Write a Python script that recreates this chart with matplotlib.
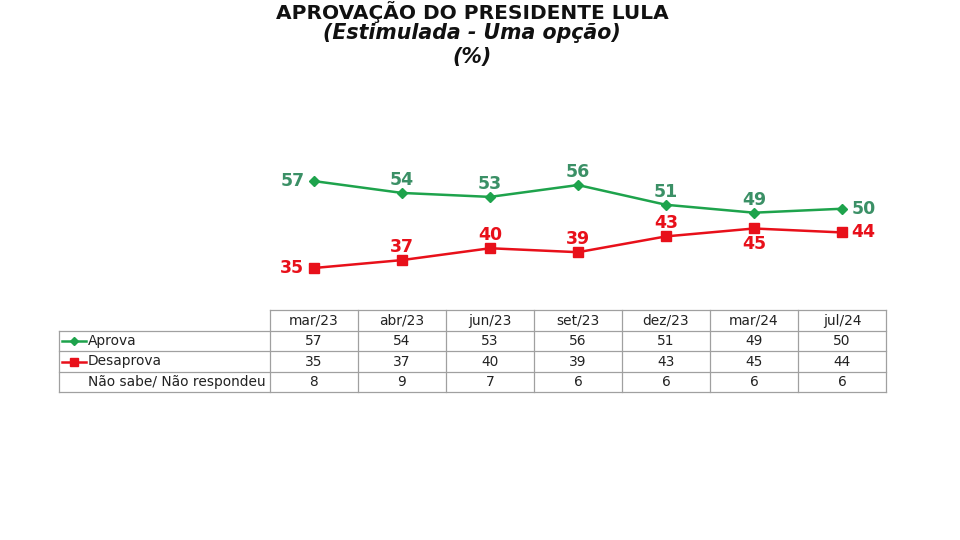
import matplotlib
matplotlib.use('Agg')
import matplotlib.pyplot as plt

# data
months = ['mar/23', 'abr/23', 'jun/23', 'set/23', 'dez/23', 'mar/24', 'jul/24']
aprova = [57, 54, 53, 56, 51, 49, 50]
desaprova = [35, 37, 40, 39, 43, 45, 44]
nao_sabe = [8, 9, 7, 6, 6, 6, 6]
row_names = ['Aprova', 'Desaprova', 'Não sabe/ Não respondeu']

green_line = '#1ea34c'
green_text = '#3b9066'
red = '#e8101a'
grid_col = '#a0a0a0'

plt.rcParams['font.family'] = ['DejaVu Sans']

W, H = 960, 540
fig = plt.figure(figsize=(9.6, 5.4), dpi=100)
fig.patch.set_facecolor('white')

# overlay axes in pixel coordinates for titles and table
bg = fig.add_axes([0, 0, 1, 1])
bg.set_xlim(0, W)
bg.set_ylim(H, 0)
bg.axis('off')

bg.text(472, 1, 'APROVAÇÃO DO PRESIDENTE LULA', ha='center', va='top',
        fontsize=14.5, fontweight='bold', color='#111111')
bg.text(472, 33, '(Estimulada - Uma opção)', ha='center', va='center',
        fontsize=14.8, fontweight='bold', style='italic', color='#111111')
bg.text(472, 57, '(%)', ha='center', va='center',
        fontsize=14.8, fontweight='bold', style='italic', color='#111111')

# line chart axes: columns from x=270 to 886 px
x0, x1 = 270, 886
y_top, y_bot = 140, 300
ax = fig.add_axes([x0 / W, 1 - y_bot / H, (x1 - x0) / W, (y_bot - y_top) / H])
ax.set_xlim(-0.5, len(months) - 0.5)
ax.set_ylim(26.9, 67.4)
ax.axis('off')

xs = list(range(len(months)))
ax.plot(xs, aprova, color=green_line, lw=1.8, marker='D', ms=5, zorder=3)
ax.plot(xs, desaprova, color=red, lw=1.8, marker='s', ms=7, zorder=3)

# label placement: l=left, a=above, b=below, r=right
pos_ap = ['l', 'a', 'a', 'a', 'a', 'a', 'r']
pos_de = ['l', 'a', 'a', 'a', 'a', 'b', 'r']

def put_labels(vals, places, col):
    for i, (v, p) in enumerate(zip(vals, places)):
        if p == 'l':
            off, ha, va = (-7, 0), 'right', 'center'
        elif p == 'r':
            off, ha, va = (7, 0), 'left', 'center'
        elif p == 'a':
            off, ha, va = (0, 3), 'center', 'bottom'
        else:
            off, ha, va = (0, -5), 'center', 'top'
        ax.annotate(str(v), (i, v), xytext=off, textcoords='offset points',
                    ha=ha, va=va, fontsize=12.5, fontweight='bold', color=col)

put_labels(aprova, pos_ap, green_text)
put_labels(desaprova, pos_de, red)

# table
col_w = (x1 - x0) / len(months)
lab_x0 = 59
row_y = [310, 331, 351, 372, 392]
tk = dict(fontsize=9.9, color='#222222', va='center')

# header
bg.plot([x0, x1], [row_y[0], row_y[0]], color=grid_col, lw=0.9)
for j, m in enumerate(months):
    bg.text(x0 + col_w * (j + 0.5), (row_y[0] + row_y[1]) / 2, m, ha='center', **tk)
# horizontal lines of body
for y in row_y[1:]:
    bg.plot([lab_x0, x1], [y, y], color=grid_col, lw=0.9)
# vertical lines
bg.plot([lab_x0, lab_x0], [row_y[1], row_y[-1]], color=grid_col, lw=0.9)
for j in range(len(months) + 1):
    bg.plot([x0 + col_w * j] * 2, [row_y[0], row_y[-1]], color=grid_col, lw=0.9)

rows = [aprova, desaprova, nao_sabe]
for r, (name, vals) in enumerate(zip(row_names, rows)):
    yc = (row_y[r + 1] + row_y[r + 2]) / 2
    bg.text(88, yc, name, ha='left', **tk)
    for j, v in enumerate(vals):
        bg.text(x0 + col_w * (j + 0.5), yc, str(v), ha='center', **tk)

# legend keys in table
ly = (row_y[1] + row_y[2]) / 2
bg.plot([62, 86], [ly, ly], color=green_line, lw=1.8)
bg.plot([74], [ly], marker='D', color=green_line, ms=4)
ly = (row_y[2] + row_y[3]) / 2
bg.plot([62, 86], [ly, ly], color=red, lw=1.8)
bg.plot([74], [ly], marker='s', color=red, ms=6)

fig.savefig('out.png', dpi=100, facecolor='white')
